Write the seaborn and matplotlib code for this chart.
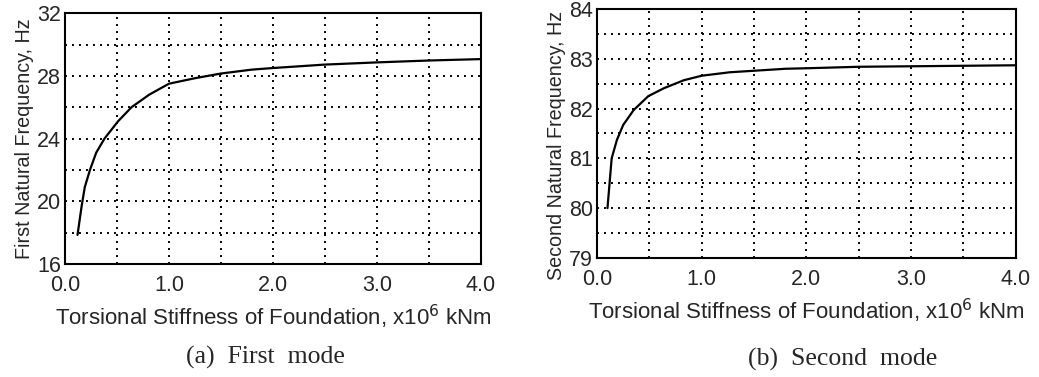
import numpy as np
import matplotlib
matplotlib.use("Agg")
import matplotlib.pyplot as plt
import pandas as pd
import seaborn as sns
from matplotlib.ticker import MultipleLocator

stiff_first = [0.12, 0.16, 0.19, 0.24, 0.30, 0.38, 0.51, 0.64, 0.81, 1.0,
               1.25, 1.5, 1.8, 2.0, 2.5, 3.0, 3.5, 4.0]
freq_first = [17.85, 19.7, 20.9, 22.0, 23.1, 24.0, 25.1, 26.0, 26.8, 27.5,
              27.85, 28.15, 28.4, 28.5, 28.72, 28.86, 28.98, 29.07]

stiff_second = [0.10, 0.12, 0.14, 0.19, 0.25, 0.35, 0.49, 0.64, 0.83, 1.0,
                1.27, 1.5, 1.8, 2.0, 2.5, 3.0, 3.5, 4.0]
freq_second = [80.0, 80.5, 81.0, 81.37, 81.67, 81.97, 82.25, 82.41, 82.57, 82.66,
               82.73, 82.76, 82.8, 82.81, 82.84, 82.85, 82.86, 82.87]

x_ticks = [0.0, 1.0, 2.0, 3.0, 4.0]
y_ticks_first = [16, 20, 24, 28, 32]
y_ticks_second = [79, 80, 81, 82, 83, 84]

sns.set_style("white")
plt.rcParams['font.family'] = ['Liberation Sans', 'DejaVu Sans']

fig = plt.figure(figsize=(10.39, 3.77), dpi=100)
ax1 = fig.add_axes([0.0626, 0.300, 0.400, 0.665])
ax2 = fig.add_axes([0.5746, 0.316, 0.403, 0.660])

xlabel = r'Torsional Stiffness of Foundation, x10$^{6}$ kNm'

panels = [
    (ax1, stiff_first, freq_first, y_ticks_first, 2, 'First Natural Frequency, Hz', 0.5),
    (ax2, stiff_second, freq_second, y_ticks_second, 0.5, 'Second Natural Frequency, Hz', 0.45),
]

for ax, xs, ys, yt, ystep, ylab, ly in panels:
    df = pd.DataFrame({'k': xs, 'f': ys})
    sns.lineplot(data=df, x='k', y='f', ax=ax, color='black', linewidth=1.6,
                 sort=False, estimator=None)
    ax.set_xlim(0, 4)
    ax.set_ylim(yt[0], yt[-1])
    ax.set_xticks(x_ticks)
    ax.set_xticklabels([f'{v:.1f}' for v in x_ticks])
    ax.set_yticks(yt)
    ax.xaxis.set_minor_locator(MultipleLocator(0.5))
    ax.yaxis.set_minor_locator(MultipleLocator(ystep))
    ax.grid(True, which='both', color='black', linestyle=(0, (1, 2.6)), linewidth=1.4)
    ax.tick_params(which='both', length=0, labelsize=15.5, pad=3)
    ax.tick_params(axis='x', pad=8)
    for s in ax.spines.values():
        s.set_linewidth(1.5)
        s.set_color('black')
    ax.set_xlabel(xlabel, fontsize=16, labelpad=5)
    ax.set_ylabel(ylab, fontsize=14.2, labelpad=2)
    ax.yaxis.label.set_y(ly)

fig.text(265 / 1039, 1 - 357 / 377, '(a)  First  mode', family='Liberation Serif',
         fontsize=18.5, ha='center', va='center')
fig.text(843 / 1039, 1 - 359 / 377, '(b)  Second  mode', family='Liberation Serif',
         fontsize=18.5, ha='center', va='center')

plt.savefig('out.png', dpi=100)
